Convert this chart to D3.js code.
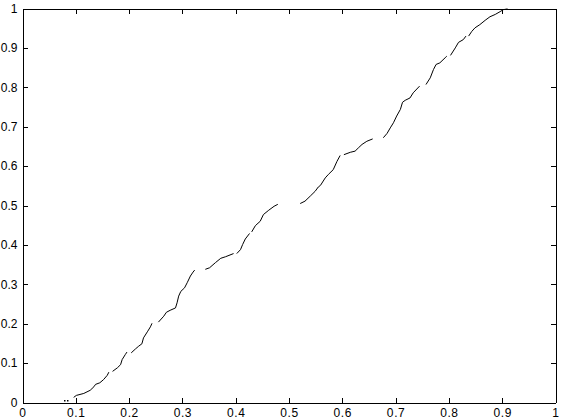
<!DOCTYPE html>
<html>
<head>
<meta charset="utf-8">
<script src="https://cdn.jsdelivr.net/npm/d3@7"></script>
<style>
  html, body { margin: 0; padding: 0; background: #fff; }
  svg { display: block; }
  .axis text { font-family: "Liberation Sans", Arial, sans-serif; font-size: 12px; fill: #000; }
  .axis.x text { letter-spacing: 0.6px; }
  .axis path, .axis line { stroke: #000; shape-rendering: crispEdges; }
</style>
</head>
<body>
<svg id="chart" width="561" height="420"></svg>
<script>
// tick values
var xTicks = [0, 0.1, 0.2, 0.3, 0.4, 0.5, 0.6, 0.7, 0.8, 0.9, 1];
var yTicks = [0, 0.1, 0.2, 0.3, 0.4, 0.5, 0.6, 0.7, 0.8, 0.9, 1];

// curve (gaps between pieces)
var startDots = [[0.077, 0.003], [0.084, 0.005]];
var seg01 = [[0.096, 0.013], [0.101, 0.018], [0.115, 0.023], [0.127, 0.031], [0.134, 0.040], [0.137, 0.046], [0.145, 0.050], [0.152, 0.058], [0.159, 0.069], [0.162, 0.077]];
var seg02 = [[0.169, 0.079], [0.178, 0.088], [0.184, 0.096], [0.187, 0.109], [0.193, 0.122], [0.196, 0.128]];
var seg03 = [[0.204, 0.126], [0.212, 0.136], [0.218, 0.143], [0.224, 0.149], [0.227, 0.164], [0.235, 0.181], [0.240, 0.192], [0.243, 0.201]];
var seg04 = [[0.255, 0.204], [0.265, 0.219], [0.270, 0.229], [0.277, 0.234], [0.287, 0.240], [0.290, 0.253], [0.293, 0.270], [0.297, 0.282], [0.304, 0.291], [0.309, 0.304], [0.315, 0.321], [0.320, 0.331], [0.323, 0.336]];
var seg05 = [[0.343, 0.338], [0.351, 0.342], [0.362, 0.355], [0.372, 0.366], [0.381, 0.370], [0.396, 0.378]];
var seg06 = [[0.402, 0.378], [0.409, 0.388], [0.413, 0.401], [0.418, 0.415], [0.426, 0.429]];
var seg07 = [[0.430, 0.433], [0.437, 0.449], [0.446, 0.460], [0.452, 0.477], [0.462, 0.488], [0.472, 0.498], [0.479, 0.503]];
var seg08 = [[0.521, 0.505], [0.530, 0.511], [0.540, 0.524], [0.549, 0.536], [0.555, 0.547], [0.559, 0.551], [0.568, 0.570], [0.574, 0.579], [0.583, 0.591], [0.590, 0.612], [0.596, 0.627]];
var seg09 = [[0.603, 0.629], [0.615, 0.635], [0.624, 0.638], [0.630, 0.646], [0.637, 0.655], [0.646, 0.663], [0.657, 0.669]];
var seg10 = [[0.677, 0.672], [0.684, 0.683], [0.690, 0.697], [0.696, 0.710], [0.702, 0.727], [0.709, 0.744], [0.713, 0.762], [0.718, 0.767], [0.727, 0.773], [0.733, 0.786], [0.745, 0.803]];
var seg11 = [[0.757, 0.807], [0.765, 0.824], [0.771, 0.845], [0.776, 0.858], [0.783, 0.862], [0.793, 0.875], [0.796, 0.879]];
var seg12 = [[0.803, 0.881], [0.812, 0.900], [0.818, 0.914], [0.827, 0.921], [0.832, 0.930]];
var seg13 = [[0.837, 0.930], [0.843, 0.942], [0.849, 0.951], [0.858, 0.959], [0.868, 0.970], [0.877, 0.979], [0.887, 0.985], [0.896, 0.992], [0.902, 0.997], [0.910, 0.999]];

var segments = [seg01, seg02, seg03, seg04, seg05, seg06, seg07, seg08, seg09, seg10, seg11, seg12, seg13];

var svg = d3.select("#chart");

var x = d3.scaleLinear().domain([0, 1]).range([22.5, 555.5]);
var y = d3.scaleLinear().domain([0, 1]).range([402.5, 8.5]);

function fmt(d) { return d3.format("~g")(d); }

// axes, ticks point inwards, box on all four sides
svg.append("g").attr("class", "axis x")
  .attr("transform", "translate(0," + y(0) + ")")
  .call(d3.axisBottom(x).tickValues(xTicks).tickFormat(fmt).tickSizeInner(-5).tickSizeOuter(0).tickPadding(6));

svg.append("g").attr("class", "axis y")
  .attr("transform", "translate(" + x(0) + ",0)")
  .call(d3.axisLeft(y).tickValues(yTicks).tickFormat(fmt).tickSizeInner(-5).tickSizeOuter(0).tickPadding(5));

svg.append("g").attr("class", "axis")
  .attr("transform", "translate(0," + y(1) + ")")
  .call(d3.axisTop(x).tickValues(xTicks).tickFormat("").tickSizeInner(-5).tickSizeOuter(0));

svg.append("g").attr("class", "axis")
  .attr("transform", "translate(" + x(1) + ",0)")
  .call(d3.axisRight(y).tickValues(yTicks).tickFormat("").tickSizeInner(-5).tickSizeOuter(0));

// curve
var line = d3.line()
  .x(function(d) { return x(d[0]); })
  .y(function(d) { return y(d[1]); });

svg.append("g").selectAll("path.curve")
  .data(segments)
  .enter().append("path")
  .attr("class", "curve")
  .attr("d", line)
  .attr("fill", "none")
  .attr("stroke", "#000")
  .attr("stroke-width", 1);

svg.append("g").selectAll("rect.dot")
  .data(startDots)
  .enter().append("rect")
  .attr("class", "dot")
  .attr("x", function(d) { return Math.round(x(d[0])); })
  .attr("y", function(d) { return Math.round(y(d[1])) - 1; })
  .attr("width", 1.5)
  .attr("height", 1.5)
  .attr("fill", "#000");
</script>
</body>
</html>
